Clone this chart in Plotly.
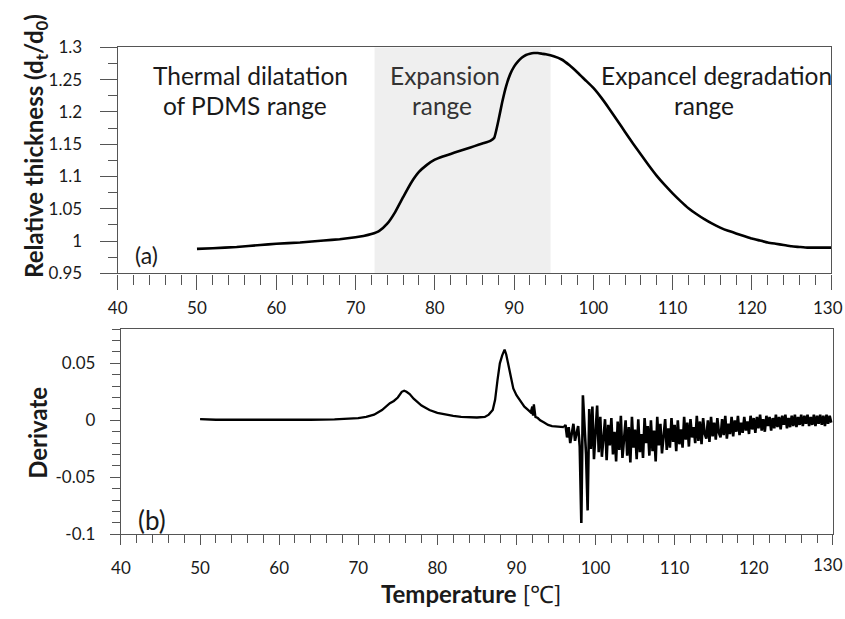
import plotly.graph_objects as go

# ---------------- data ----------------
# (a) relative thickness vs temperature
temp_a = [50, 52, 55, 58, 60, 63, 66, 68, 70, 71, 72, 73, 74, 75, 76, 77, 78, 79, 80,
          81, 82, 83, 84, 85, 86, 87, 87.5, 88, 88.5, 89, 89.5, 90, 90.5, 91, 91.5, 92,
          92.5, 93, 93.5, 94, 95, 96, 97, 98, 99, 100, 101, 102, 103, 104, 105, 106, 107,
          108, 109, 110, 111, 112, 113, 114, 115, 116, 117, 118, 119, 120, 121, 122, 123,
          124, 125, 126, 127, 128, 129, 130]
rel_thick = [0.988, 0.989, 0.991, 0.994, 0.996, 0.998, 1.001, 1.003, 1.006, 1.008, 1.011,
             1.016, 1.027, 1.045, 1.068, 1.090, 1.107, 1.118, 1.126, 1.131, 1.135, 1.139,
             1.143, 1.147, 1.151, 1.155, 1.160, 1.185, 1.215, 1.240, 1.258, 1.270, 1.278,
             1.284, 1.288, 1.290, 1.291, 1.291, 1.290, 1.289, 1.286, 1.281, 1.272, 1.261,
             1.249, 1.237, 1.222, 1.205, 1.187, 1.169, 1.151, 1.134, 1.117, 1.101, 1.087,
             1.074, 1.062, 1.051, 1.042, 1.034, 1.027, 1.021, 1.016, 1.012, 1.008, 1.004,
             1.001, 0.998, 0.996, 0.994, 0.992, 0.991, 0.990, 0.990, 0.990, 0.990]

# (b) derivative: smooth part
temp_b_smooth = [50, 52, 55, 58, 61, 64, 67, 69, 70, 71, 72, 73, 73.5, 74, 74.5, 75, 75.5,
                 75.8, 76.1, 76.5, 77, 77.5, 78, 78.5, 79, 80, 81, 82, 83, 84, 85, 86, 86.5,
                 87, 87.3, 87.6, 87.9, 88.2, 88.5, 88.7, 89, 89.3, 89.6, 90, 90.5, 91, 91.5,
                 91.8, 92, 92.1, 92.2, 92.4, 92.7, 93, 93.5, 94, 94.5, 95, 95.5, 96]
deriv_smooth = [0.001, 0.0005, 0.0005, 0.0003, 0.0003, 0.0005, 0.0008, 0.0012, 0.002, 0.003,
                0.005, 0.009, 0.012, 0.015, 0.017, 0.020, 0.025, 0.026, 0.025, 0.023, 0.019,
                0.016, 0.013, 0.011, 0.009, 0.0065, 0.005, 0.004, 0.003, 0.0025, 0.0025, 0.003,
                0.005, 0.009, 0.018, 0.035, 0.050, 0.057, 0.062, 0.058, 0.048, 0.036, 0.028,
                0.022, 0.017, 0.012, 0.009, 0.007, 0.012, 0.004, 0.014, 0.003, 0.002, 0.000,
                -0.002, -0.004, -0.005, -0.0055, -0.006, -0.006]

# (b) derivative: noisy part (one line per degree)
temp_b_noise = [
    96.2, 96.4, 96.6, 96.8, 97.0,
    97.2, 97.4, 97.6, 97.8, 98.0,
    98.2, 98.4, 98.6, 98.8, 99.0,
    99.2, 99.4, 99.6, 99.8, 100.0,
    100.2, 100.4, 100.6, 100.8, 101.0,
    101.2, 101.4, 101.6, 101.8, 102.0,
    102.2, 102.4, 102.6, 102.8, 103.0,
    103.2, 103.4, 103.6, 103.8, 104.0,
    104.2, 104.4, 104.6, 104.8, 105.0,
    105.2, 105.4, 105.6, 105.8, 106.0,
    106.2, 106.4, 106.6, 106.8, 107.0,
    107.2, 107.4, 107.6, 107.8, 108.0,
    108.2, 108.4, 108.6, 108.8, 109.0,
    109.2, 109.4, 109.6, 109.8, 110.0,
    110.2, 110.4, 110.6, 110.8, 111.0,
    111.2, 111.4, 111.6, 111.8, 112.0,
    112.2, 112.4, 112.6, 112.8, 113.0,
    113.2, 113.4, 113.6, 113.8, 114.0,
    114.2, 114.4, 114.6, 114.8, 115.0,
    115.2, 115.4, 115.6, 115.8, 116.0,
    116.2, 116.4, 116.6, 116.8, 117.0,
    117.2, 117.4, 117.6, 117.8, 118.0,
    118.2, 118.4, 118.6, 118.8, 119.0,
    119.2, 119.4, 119.6, 119.8, 120.0,
    120.2, 120.4, 120.6, 120.8, 121.0,
    121.2, 121.4, 121.6, 121.8, 122.0,
    122.2, 122.4, 122.6, 122.8, 123.0,
    123.2, 123.4, 123.6, 123.8, 124.0,
    124.2, 124.4, 124.6, 124.8, 125.0,
    125.2, 125.4, 125.6, 125.8, 126.0,
    126.2, 126.4, 126.6, 126.8, 127.0,
    127.2, 127.4, 127.6, 127.8, 128.0,
    128.2, 128.4, 128.6, 128.8, 129.0,
    129.2, 129.4, 129.6, 129.8,
]
deriv_noise = [
    -0.004, -0.015, -0.006, -0.020, -0.009,
    -0.003, -0.018, -0.011, -0.005, -0.023,
    -0.090, 0.022, -0.008, -0.030, -0.079,
    0.010, -0.025, 0.012, -0.034, -0.006,
    0.013, -0.028, 0.003, -0.032, -0.012,
    0.001, -0.035, -0.004, -0.022, 0.002,
    -0.030, -0.010, -0.036, -0.001, -0.026,
    0.004, -0.033, -0.015, 0.000, -0.031,
    -0.006, -0.037, 0.003, -0.024, -0.008,
    -0.034, 0.001, -0.028, -0.012, -0.033,
    0.002, -0.020, -0.005, -0.031, 0.000,
    -0.027, -0.009, -0.036, 0.003, -0.022,
    -0.003, -0.029, -0.014, 0.001, -0.026,
    -0.007, -0.024, 0.002, -0.019, -0.004,
    -0.027, 0.000, -0.021, -0.008, -0.024,
    0.003, -0.017, -0.002, -0.023, 0.001,
    -0.015, -0.006, -0.020, 0.004, -0.018,
    -0.001, -0.021, 0.002, -0.012, -0.016,
    0.000, -0.019, 0.003, -0.014, -0.002,
    -0.017, 0.002, -0.011, -0.015, 0.001,
    -0.013, 0.004, -0.016, -0.003, -0.012,
    0.003, -0.014, 0.000, -0.010, 0.004,
    -0.013, -0.002, -0.011, 0.003, -0.009,
    -0.001, -0.012, 0.004, -0.008, 0.002,
    -0.011, 0.003, -0.007, 0.005, -0.009,
    0.001, -0.010, 0.004, -0.005, 0.003,
    -0.009, 0.002, -0.007, 0.005, -0.006,
    0.003, -0.008, 0.004, -0.004, 0.005,
    -0.007, 0.002, -0.006, 0.004, -0.005,
    0.005, -0.006, 0.003, -0.004, 0.005,
    -0.005, 0.004, -0.003, 0.005, -0.005,
    0.003, -0.004, 0.005, -0.005, 0.004,
    -0.003, 0.005, -0.004, 0.004, -0.005,
    0.005, -0.003, 0.004, -0.002,
]

x_ticks = [40, 50, 60, 70, 80, 90, 100, 110, 120, 130]
x_ticktext = ["40", "50", "60", "70", "80", "90", "100", "110", "120", ""]
last_x_label = "130"
y_ticks_a = [0.95, 1.0, 1.05, 1.1, 1.15, 1.2, 1.25, 1.3]
y_ticktext_a = ["0.95", "1", "1.05", "1.1", "1.15", "1.2", "1.25", "1.3"]
y_ticks_b = [-0.1, -0.05, 0.0, 0.05]
y_ticktext_b = ["-0.1", "-0.05", "0", "0.05"]

# ---------------- figure ----------------
W, H = 845, 619
FONT = "Lato"
TXT = "#1a1a1a"
AX = "#555555"
TICK_SIZE = 17

def px(v):
    return v / W

def py(v):
    return 1 - v / H

fig = go.Figure()

fig.add_trace(go.Scatter(
    x=temp_a, y=rel_thick, mode="lines", xaxis="x", yaxis="y",
    line=dict(color="black", width=2.6, shape="spline", smoothing=0.4),
    showlegend=False, hoverinfo="skip"))

fig.add_trace(go.Scatter(
    x=temp_b_smooth, y=deriv_smooth, mode="lines", xaxis="x2", yaxis="y2",
    line=dict(color="black", width=2.3),
    showlegend=False, hoverinfo="skip"))

fig.add_trace(go.Scatter(
    x=[temp_b_smooth[-1]] + temp_b_noise, y=[deriv_smooth[-1]] + deriv_noise,
    mode="lines", xaxis="x2", yaxis="y2",
    line=dict(color="black", width=2.6),
    showlegend=False, hoverinfo="skip"))

tickfont = dict(family=FONT, size=TICK_SIZE, color=TXT)
common = dict(showline=True, linecolor=AX, linewidth=1.3, mirror=True, ticks="outside",
              tickcolor=AX, tickwidth=1.3, showgrid=False, zeroline=False, tickfont=tickfont)

fig.update_layout(
    width=W, height=H,
    margin=dict(l=0, r=0, t=0, b=0),
    paper_bgcolor="white", plot_bgcolor="white",
    xaxis=dict(domain=[px(109), px(831)], range=[40, 130], anchor="y",
               tickmode="array", tickvals=x_ticks, ticktext=x_ticktext,
               ticklen=15, ticklabelstandoff=4,
               minor=dict(tickmode="linear", tick0=40, dtick=2, ticks="outside",
                          ticklen=10, tickcolor=AX, tickwidth=1.3, showgrid=False),
               **common),
    yaxis=dict(domain=[py(271.7), py(37.5)], range=[0.95, 1.3], anchor="x",
               tickmode="array", tickvals=y_ticks_a, ticktext=y_ticktext_a,
               ticklen=17, ticklabelstandoff=14,
               minor=dict(tickmode="linear", tick0=0.95, dtick=0.025, ticks="outside",
                          ticklen=9, tickcolor=AX, tickwidth=1.3, showgrid=False),
               **common),
    xaxis2=dict(domain=[px(112.3), px(832.7)], range=[40, 130], anchor="y2",
                tickmode="array", tickvals=x_ticks, ticktext=x_ticktext,
                ticklen=10, ticklabelstandoff=8,
                minor=dict(tickmode="linear", tick0=40, dtick=2, ticks="outside",
                           ticklen=8, tickcolor=AX, tickwidth=1.3, showgrid=False),
                **common),
    yaxis2=dict(domain=[py(541.7), py(329.3)], range=[-0.1, 0.08], anchor="x2",
                tickmode="array", tickvals=y_ticks_b, ticktext=y_ticktext_b,
                ticklen=10, ticklabelstandoff=11,
                minor=dict(tickmode="linear", tick0=-0.1, dtick=0.01, ticks="outside",
                           ticklen=8, tickcolor=AX, tickwidth=1.3, showgrid=False),
                **common),
)

fig.add_shape(type="rect", xref="x", yref="y", x0=72.4, x1=94.6, y0=0.95, y1=1.3,
              fillcolor="#efefef", line=dict(width=0), layer="below")

def note(text, x, y, size=24, angle=0, color=TXT, xanchor="center"):
    fig.add_annotation(text=text, xref="paper", yref="paper", x=px(x), y=py(y),
                       xanchor=xanchor, yanchor="middle", showarrow=False,
                       textangle=angle, font=dict(family=FONT, size=size, color=color))

note("Thermal dilatation", 243, 67, size=24.5)
note("of PDMS range", 238, 98, size=24.5)
note("Expansion", 440, 67, size=24.5, color="#333333")
note("range", 437, 98, size=24.5, color="#333333")
note("Expancel degradation", 715, 67, size=24.5)
note("range", 702, 98, size=24.5)
note("(a)", 138, 253, size=23)
note("(b)", 144, 527, size=26)

# last x tick labels (kept inside the page so nothing overflows)
note(last_x_label, 845, 307, size=TICK_SIZE, xanchor="right")
note(last_x_label, 845, 573, size=TICK_SIZE, xanchor="right")

note("<b>Relative thickness (d<sub>t</sub>/d<sub>0</sub>)</b>", 26, 140, size=24, angle=-90)
note("<b>Derivate</b>", 27, 437, size=24, angle=-90)
note("<b>Temperature</b> [℃]", 467, 603, size=24)

fig.write_html("out.html")
